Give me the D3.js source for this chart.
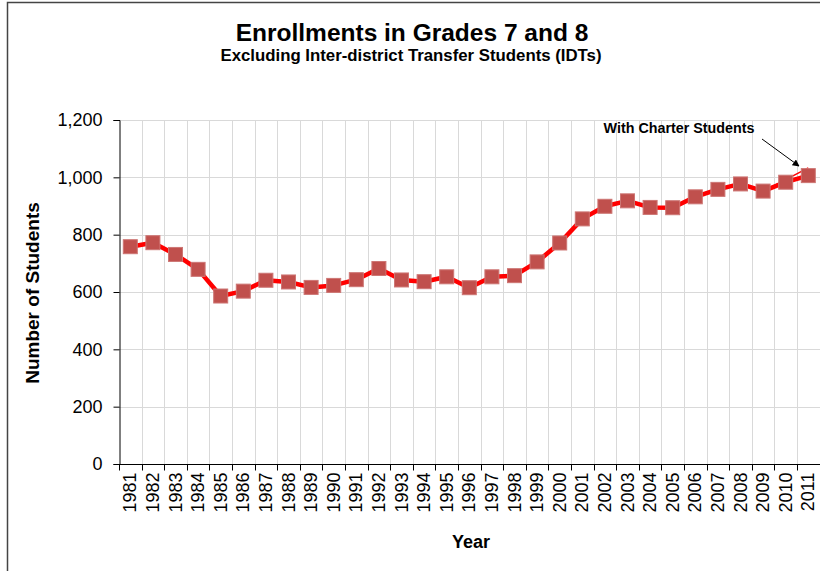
<!DOCTYPE html>
<html>
<head>
<meta charset="utf-8">
<script src="https://cdn.jsdelivr.net/npm/d3@7"></script>
<style>
  html, body { margin: 0; padding: 0; background: #fff; }
  svg { display: block; font-family: "Liberation Sans", Arial, sans-serif; }
  .grid line { stroke: #d9d9d9; stroke-width: 1; }
  .axis path, .axis line { stroke: #000; }
</style>
</head>
<body>
<svg id="chart" width="820" height="571"></svg>
<script>
// data
const years = ['1981', '1982', '1983', '1984', '1985', '1986', '1987', '1988', '1989', '1990',
  '1991', '1992', '1993', '1994', '1995', '1996', '1997', '1998', '1999', '2000',
  '2001', '2002', '2003', '2004', '2005', '2006', '2007', '2008', '2009', '2010', '2011'];
const enrollments = [758, 772, 731, 679, 586, 603, 641, 635, 616, 623,
  643, 682, 642, 636, 653, 615, 653, 657, 705, 771,
  855, 899, 918, 895, 894, 932, 958, 977, 952, 983, 1006];
const charterYears = ['2009', '2010', '2011'];
const charterValues = [952, 992, 1033];
const yTicks = [0, 200, 400, 600, 800, 1000, 1200];

const svg = d3.select('#chart');
const plot = { left: 119, top: 120, right: 820, bottom: 464 };

const x = d3.scaleBand()
  .domain(years)
  .range([plot.left, plot.left + 22.6 * years.length])
  .padding(0);
const y = d3.scaleLinear()
  .domain([0, 1200])
  .range([plot.bottom, plot.top]);

// outer frame
svg.append('path')
  .attr('d', 'M7.5,575 V2.5 H830')
  .attr('fill', 'none')
  .attr('stroke', '#444')
  .attr('stroke-width', 1.5);

// gridlines
svg.append('g')
  .attr('class', 'grid')
  .selectAll('line.h')
  .data(yTicks.slice(1))
  .join('line')
  .attr('x1', plot.left)
  .attr('x2', plot.right)
  .attr('y1', d => Math.round(y(d)) + 0.5)
  .attr('y2', d => Math.round(y(d)) + 0.5);

svg.select('.grid')
  .selectAll('line.v')
  .data(years.slice(1))
  .join('line')
  .attr('class', 'v')
  .attr('x1', d => Math.round(x(d)) + 0.5)
  .attr('x2', d => Math.round(x(d)) + 0.5)
  .attr('y1', plot.top)
  .attr('y2', plot.bottom);

// y axis
const yAxis = svg.append('g')
  .attr('class', 'axis')
  .attr('transform', `translate(${plot.left + 0.5},0)`)
  .call(d3.axisLeft(y).tickValues(yTicks).tickSize(6).tickPadding(11).tickFormat(d3.format(',')));
yAxis.selectAll('text')
  .attr('font-size', 18)
  .attr('fill', '#000')
  .attr('font-family', '"Liberation Sans", Arial, sans-serif');

// x axis: ticks at category boundaries, labels at centres
const xAxis = svg.append('g')
  .attr('class', 'axis')
  .attr('transform', `translate(0,${plot.bottom + 0.5})`);
xAxis.append('line')
  .attr('x1', plot.left)
  .attr('x2', plot.right)
  .attr('stroke', '#000');
xAxis.selectAll('line.tick')
  .data(years)
  .join('line')
  .attr('class', 'tick')
  .attr('x1', d => Math.round(x(d)) + 0.5)
  .attr('x2', d => Math.round(x(d)) + 0.5)
  .attr('y1', 0)
  .attr('y2', 6)
  .attr('stroke', '#000');
xAxis.selectAll('text')
  .data(years)
  .join('text')
  .attr('transform', d => `translate(${x(d) + x.bandwidth() / 2 + 6},8) rotate(-90)`)
  .attr('text-anchor', 'end')
  .attr('font-size', 18)
  .text(d => d);

// charter line (thin, behind main series)
const line = d3.line()
  .x(d => x(d.year) + x.bandwidth() / 2)
  .y(d => y(d.value));

svg.append('path')
  .datum(charterYears.map((yr, i) => ({ year: yr, value: charterValues[i] })))
  .attr('d', line)
  .attr('fill', 'none')
  .attr('stroke', '#ff0000')
  .attr('stroke-width', 1.5);

const series = years.map((yr, i) => ({ year: yr, value: enrollments[i] }));

svg.append('path')
  .datum(series)
  .attr('d', line)
  .attr('fill', 'none')
  .attr('stroke', '#ff0000')
  .attr('stroke-width', 4.5)
  .attr('stroke-linejoin', 'round');

svg.selectAll('rect.marker')
  .data(series)
  .join('rect')
  .attr('class', 'marker')
  .attr('x', d => x(d.year) + x.bandwidth() / 2 - 7)
  .attr('y', d => y(d.value) - 7)
  .attr('width', 14)
  .attr('height', 14)
  .attr('fill', '#c0504d')
  .attr('stroke', '#cd7674')
  .attr('stroke-width', 1);

// annotation
svg.append('defs').append('marker')
  .attr('id', 'arrow')
  .attr('viewBox', '0 0 10 10')
  .attr('refX', 9)
  .attr('refY', 5)
  .attr('markerWidth', 7)
  .attr('markerHeight', 7)
  .attr('orient', 'auto')
  .append('path')
  .attr('d', 'M0,0 L10,5 L0,10 z')
  .attr('fill', '#000');

svg.append('text')
  .attr('x', 679)
  .attr('y', 133)
  .attr('text-anchor', 'middle')
  .attr('font-size', 14.3)
  .attr('font-weight', 'bold')
  .text('With Charter Students');

svg.append('line')
  .attr('x1', 762)
  .attr('y1', 139)
  .attr('x2', 799)
  .attr('y2', 166)
  .attr('stroke', '#000')
  .attr('stroke-width', 1)
  .attr('marker-end', 'url(#arrow)');

// titles
svg.append('text')
  .attr('x', 412)
  .attr('y', 41)
  .attr('text-anchor', 'middle')
  .attr('font-size', 24.5)
  .attr('font-weight', 'bold')
  .text('Enrollments in Grades 7 and 8');

svg.append('text')
  .attr('x', 411)
  .attr('y', 61)
  .attr('text-anchor', 'middle')
  .attr('font-size', 16.8)
  .attr('font-weight', 'bold')
  .text('Excluding Inter-district Transfer Students (IDTs)');

svg.append('text')
  .attr('x', 471)
  .attr('y', 548)
  .attr('text-anchor', 'middle')
  .attr('font-size', 18)
  .attr('font-weight', 'bold')
  .text('Year');

svg.append('text')
  .attr('transform', 'translate(39,293) rotate(-90)')
  .attr('text-anchor', 'middle')
  .attr('font-size', 19)
  .attr('font-weight', 'bold')
  .text('Number of Students');
</script>
</body>
</html>
